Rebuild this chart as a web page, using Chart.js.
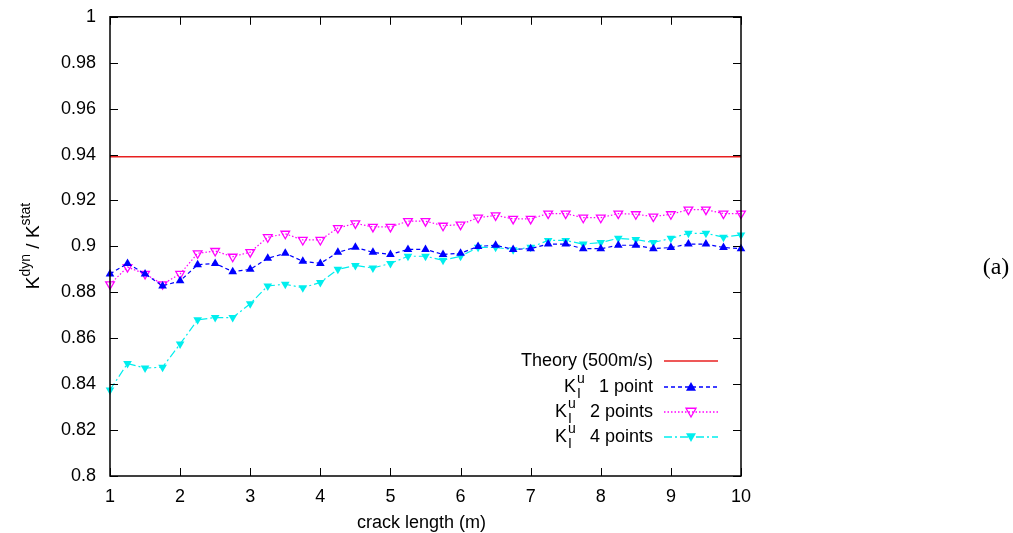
<!DOCTYPE html>
<html>
<head>
<meta charset="utf-8">
<script src="https://cdn.jsdelivr.net/npm/chart.js@4.4.0/dist/chart.umd.min.js"></script>
<style>
  body { margin: 0; background: #ffffff; }
  canvas { display: block; }
</style>
</head>
<body>
<canvas id="kChart" width="1013" height="533"></canvas>
<script>
const crackLength = [1, 1.25, 1.5, 1.75, 2, 2.25, 2.5, 2.75, 3, 3.25, 3.5, 3.75, 4, 4.25, 4.5, 4.75, 5, 5.25, 5.5, 5.75,
  6, 6.25, 6.5, 6.75, 7, 7.25, 7.5, 7.75, 8, 8.25, 8.5, 8.75, 9, 9.25, 9.5, 9.75, 10];

const onePoint = [0.888, 0.8926, 0.888, 0.8828, 0.885, 0.892, 0.8926, 0.889, 0.890, 0.8948, 0.897, 0.8935, 0.8926,
  0.8974, 0.8996, 0.8974, 0.8965, 0.8987, 0.8987, 0.8965, 0.897, 0.900, 0.9005, 0.8987, 0.899, 0.901, 0.901,
  0.899, 0.899, 0.9005, 0.9005, 0.899, 0.8995, 0.901, 0.901, 0.8995, 0.899];

const twoPoints = [0.8835, 0.891, 0.888, 0.8835, 0.888, 0.897, 0.898, 0.8955, 0.8975, 0.904, 0.9055, 0.9028, 0.9028,
  0.908, 0.910, 0.9085, 0.9085, 0.911, 0.911, 0.909, 0.9095, 0.9125, 0.9135, 0.912, 0.912, 0.9143, 0.9143,
  0.9125, 0.9125, 0.9143, 0.914, 0.913, 0.914, 0.916, 0.916, 0.9143, 0.9143];

const fourPoints = [0.8375, 0.849, 0.847, 0.8474, 0.8575, 0.868, 0.869, 0.869, 0.875, 0.8828, 0.8835, 0.882, 0.8843,
  0.890, 0.8917, 0.8906, 0.8926, 0.8957, 0.8957, 0.894, 0.8957, 0.8996, 0.8996, 0.8985, 0.8996, 0.9026, 0.9026,
  0.901, 0.9017, 0.9035, 0.903, 0.9017, 0.9035, 0.9057, 0.9057, 0.904, 0.905];

const theoryValue = 0.939;
const theoryRange = [1, 10];

const xTicks = [1, 2, 3, 4, 5, 6, 7, 8, 9, 10];
const yTicks = [0.8, 0.82, 0.84, 0.86, 0.88, 0.9, 0.92, 0.94, 0.96, 0.98, 1];

const FONT = "Liberation Sans, Arial, Helvetica, sans-serif";

function toPoints(values) {
  return crackLength.map((x, i) => ({ x: x, y: values[i] }));
}

// legend rows
const legendRows = [
  { text: "Theory (500m/s)", k: false, color: "#e82020", dash: [], marker: null },
  { text: "1 point", k: true, color: "#0000ff", dash: [4, 3], marker: "up" },
  { text: "2 points", k: true, color: "#ff00ff", dash: [1.5, 2], marker: "downOpen" },
  { text: "4 points", k: true, color: "#00eeee", dash: [8, 3, 2, 3], marker: "down" }
];

function drawMarker(ctx, type, x, y, color) {
  const r = 5;
  ctx.save();
  ctx.setLineDash([]);
  ctx.beginPath();
  if (type === "up") {
    ctx.moveTo(x, y - r);
    ctx.lineTo(x + r, y + r * 0.75);
    ctx.lineTo(x - r, y + r * 0.75);
  } else {
    ctx.moveTo(x, y + r);
    ctx.lineTo(x + r, y - r * 0.75);
    ctx.lineTo(x - r, y - r * 0.75);
  }
  ctx.closePath();
  if (type === "downOpen") {
    ctx.strokeStyle = color;
    ctx.lineWidth = 1.3;
    ctx.stroke();
  } else {
    ctx.fillStyle = color;
    ctx.fill();
  }
  ctx.restore();
}

const framePlugin = {
  id: "frame",
  afterDraw(chart) {
    const ctx = chart.ctx;
    const a = chart.chartArea;
    const xs = chart.scales.x;
    const ys = chart.scales.y;
    ctx.save();
    ctx.strokeStyle = "#000";
    ctx.lineWidth = 1.5;
    ctx.setLineDash([]);
    ctx.strokeRect(a.left, a.top, a.right - a.left, a.bottom - a.top);
    ctx.lineWidth = 1;
    ctx.beginPath();
    xTicks.forEach(v => {
      const px = Math.round(xs.getPixelForValue(v)) + 0.5;
      ctx.moveTo(px, a.bottom); ctx.lineTo(px, a.bottom - 8);
      ctx.moveTo(px, a.top); ctx.lineTo(px, a.top + 8);
    });
    yTicks.forEach(v => {
      const py = Math.round(ys.getPixelForValue(v)) + 0.5;
      ctx.moveTo(a.left, py); ctx.lineTo(a.left + 8, py);
      ctx.moveTo(a.right, py); ctx.lineTo(a.right - 8, py);
    });
    ctx.stroke();

    // axis titles
    ctx.fillStyle = "#000";
    ctx.font = "18px " + FONT;
    ctx.textAlign = "center";
    ctx.textBaseline = "alphabetic";
    ctx.fillText("crack length (m)", (a.left + a.right) / 2 - 4, 528);

    // y title with superscripts, rotated
    ctx.save();
    ctx.translate(39, 246);
    ctx.rotate(-Math.PI / 2);
    const parts = [
      { t: "K", f: 19, dy: 0 }, { t: "dyn", f: 14, dy: -9 },
      { t: " / ", f: 19, dy: 0 }, { t: "K", f: 19, dy: 0 }, { t: "stat", f: 14, dy: -9 }
    ];
    let total = 0;
    parts.forEach(p => { ctx.font = p.f + "px " + FONT; total += ctx.measureText(p.t).width; });
    let cx = -total / 2;
    ctx.textAlign = "left";
    parts.forEach(p => {
      ctx.font = p.f + "px " + FONT;
      ctx.fillText(p.t, cx, p.dy);
      cx += ctx.measureText(p.t).width;
    });
    ctx.restore();

    // legend
    const rowY = [361, 387, 412, 437];
    const textRight = 653;
    legendRows.forEach((row, i) => {
      const y = rowY[i];
      ctx.textBaseline = "middle";
      ctx.textAlign = "left";
      ctx.fillStyle = "#000";
      ctx.font = "18px " + FONT;
      const wRest = ctx.measureText(row.text).width;
      ctx.fillText(row.text, textRight - wRest, y);
      if (row.k) {
        const kx = textRight - wRest - 35;
        ctx.fillText("K", kx, y);
        ctx.font = "14px " + FONT;
        ctx.fillText("I", kx + 13, y + 7);
        ctx.fillText("u", kx + 13, y - 8);
      }
      ctx.strokeStyle = row.color;
      ctx.lineWidth = 1.5;
      ctx.setLineDash(row.dash);
      ctx.beginPath();
      ctx.moveTo(664, y);
      ctx.lineTo(718, y);
      ctx.stroke();
      ctx.setLineDash([]);
      if (row.marker) drawMarker(ctx, row.marker, 691, y, row.color);
    });

    // panel label
    ctx.font = "24px Liberation Serif, Times New Roman, serif";
    ctx.textAlign = "center";
    ctx.textBaseline = "middle";
    ctx.fillStyle = "#000";
    ctx.fillText("(a)", 996, 268);
    ctx.restore();
  }
};

new Chart(document.getElementById("kChart"), {
  type: "line",
  data: {
    datasets: [
      {
        label: "Theory (500m/s)",
        data: theoryRange.map(x => ({ x: x, y: theoryValue })),
        borderColor: "#e82020",
        borderWidth: 1.5,
        pointRadius: 0,
        clip: false
      },
      {
        label: "KIu 1 point",
        data: toPoints(onePoint),
        borderColor: "#0000ff",
        backgroundColor: "#0000ff",
        borderWidth: 1.2,
        borderDash: [4, 3],
        pointStyle: "triangle",
        pointRadius: 5,
        pointBorderWidth: 0,
        clip: false
      },
      {
        label: "KIu 2 points",
        data: toPoints(twoPoints),
        borderColor: "#ff00ff",
        backgroundColor: "rgba(255,255,255,0)",
        borderWidth: 1.2,
        borderDash: [1.5, 2],
        pointStyle: "triangle",
        pointRotation: 180,
        pointRadius: 5,
        pointBorderWidth: 1.3,
        clip: false
      },
      {
        label: "KIu 4 points",
        data: toPoints(fourPoints),
        borderColor: "#00eeee",
        backgroundColor: "#00eeee",
        borderWidth: 1.2,
        borderDash: [8, 3, 2, 3],
        pointStyle: "triangle",
        pointRotation: 180,
        pointRadius: 5,
        pointBorderWidth: 0,
        clip: false
      }
    ]
  },
  options: {
    responsive: false,
    animation: false,
    layout: { padding: { left: 0, top: 10, right: 272, bottom: 0 } },
    plugins: {
      legend: { display: false },
      tooltip: { enabled: false }
    },
    elements: { line: { tension: 0 } },
    scales: {
      x: {
        type: "linear",
        min: 1,
        max: 10,
        afterFit: s => { s.height = 57; },
        afterBuildTicks: s => { s.ticks = xTicks.map(v => ({ value: v })); },
        grid: { display: false },
        border: { display: false },
        ticks: {
          color: "#000",
          font: { size: 18, family: FONT },
          padding: 2,
          maxRotation: 0,
          callback: v => String(v)
        }
      },
      y: {
        type: "linear",
        min: 0.8,
        max: 1,
        afterFit: s => { s.width = 110; },
        afterBuildTicks: s => { s.ticks = yTicks.map(v => ({ value: v })); },
        grid: { display: false },
        border: { display: false },
        ticks: {
          color: "#000",
          font: { size: 18, family: FONT },
          padding: 6,
          callback: v => String(+v.toFixed(2))
        }
      }
    }
  },
  plugins: [framePlugin]
});
</script>
</body>
</html>
